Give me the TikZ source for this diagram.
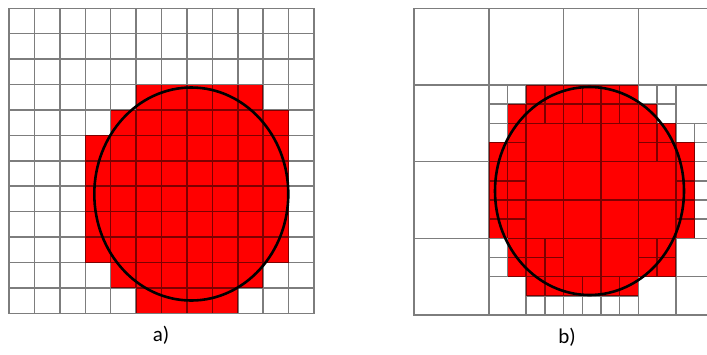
\documentclass[tikz,border=0pt]{standalone}
\usepackage{fontspec}
\setmainfont{Carlito}
\begin{document}
\begin{tikzpicture}[x=1pt,y=-1pt,
  gridline/.style={draw={rgb,255:red,125;green,125;blue,125}, line width=1.5pt, line cap=rect},
  redcell/.style={fill=red, blend mode=multiply},
  outline/.style={draw=black, line width=2.6pt},
  panellabel/.style={font=\fontsize{21}{25}\selectfont, inner sep=0pt}]
\fill[white] (0,0) rectangle (707,354);
\useasboundingbox (0,0) rectangle (707,354);
% ---------- panel a: uniform grid ----------
\foreach \k in {0,...,12} {
  \draw[gridline] ({9+\k*25.42},8.3) -- ({9+\k*25.42},313.3);
  \draw[gridline] (9,{8.3+\k*25.42}) -- (314,{8.3+\k*25.42});
}
\foreach \r/\a/\b in {3/5/9,4/4/10,5/3/10,6/3/10,7/3/10,8/3/10,9/3/10,10/4/9,11/5/8}
  \fill[redcell] ({9+\a*25.42},{8.3+\r*25.42}) rectangle ({9+(\b+1)*25.42},{8.3+(\r+1)*25.42});
\draw[outline] (191.3,194) ellipse [x radius=97, y radius=106.5];
% ---------- panel b: adaptive grid ----------
\begin{scope}
\clip (405,0) rectangle (707,354);
% coarse and medium leaf cells
\foreach \i/\j/\s in {0/0/4,4/0/4,8/0/4,12/0/4,0/4/4,0/8/4,0/12/4,
  6/6/2,8/6/2,10/6/2,14/4/2,6/8/2,6/10/2,8/8/2,10/8/2,8/10/2,10/10/2,
  12/8/2,12/10/2,4/14/2,8/12/2,10/12/2,14/12/2,12/14/2,14/14/2}
  \draw[gridline] ({414+\i*18.7},{8.3+\j*19.17}) rectangle ({414+(\i+\s)*18.7},{8.3+(\j+\s)*19.17});
% quadrants refined into four fine cells
\foreach \i/\j in {4/4,6/4,4/6,8/4,10/4,12/4,12/6,14/6,4/8,4/10,14/8,14/10,
  4/12,6/12,6/14,8/14,10/14,12/12} {
  \draw[gridline] ({414+\i*18.7},{8.3+\j*19.17}) rectangle ({414+(\i+2)*18.7},{8.3+(\j+2)*19.17});
  \draw[gridline] ({414+(\i+1)*18.7},{8.3+\j*19.17}) -- ({414+(\i+1)*18.7},{8.3+(\j+2)*19.17});
  \draw[gridline] ({414+\i*18.7},{8.3+(\j+1)*19.17}) -- ({414+(\i+2)*18.7},{8.3+(\j+1)*19.17});
}
\foreach \j/\a/\b in {4/6/11,5/5/12,6/5/13,7/4/14,8/4/14,9/4/14,10/4/14,11/4/14,12/5/13,13/5/13,14/6/11}
  \fill[redcell] ({414+\a*18.7},{8.3+\j*19.17}) rectangle ({414+(\b+1)*18.7},{8.3+(\j+1)*19.17});
\draw[outline] (589.5,191) ellipse [x radius=94.5, y radius=104];
\end{scope}
% ---------- labels ----------
\node[panellabel] (la) at (161,335) {a)};
\node[panellabel] (lb) at (567,337) {b)};
\end{tikzpicture}
\end{document}
